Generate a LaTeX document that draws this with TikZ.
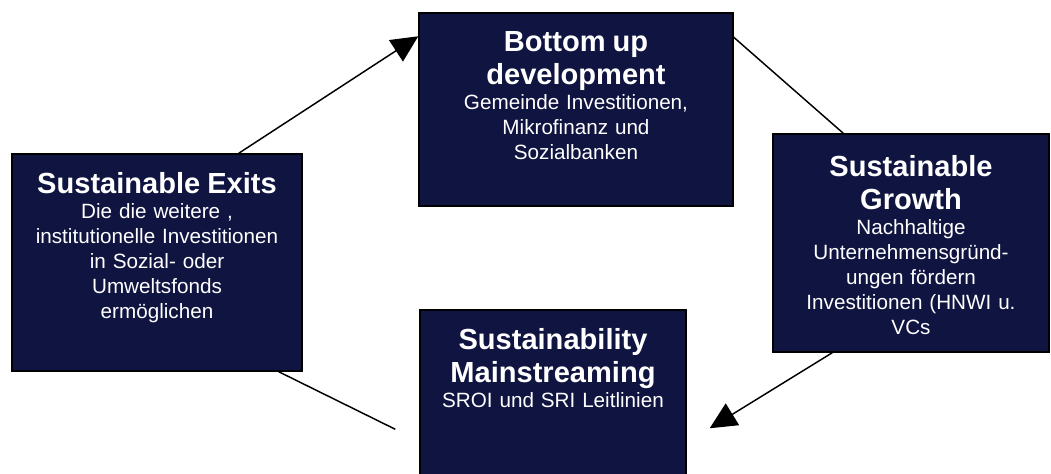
\documentclass[tikz,border=0pt]{standalone}
\usepackage{fontspec}
\setmainfont{Liberation Sans}
\usetikzlibrary{arrows.meta}
\usetikzlibrary{calc}
\usetikzlibrary{fit}
\usetikzlibrary{shadows}
\definecolor{mynavy}{RGB}{16,20,64}
\newcommand{\cardtitle}{\fontsize{21.8}{25}\selectfont\bfseries}
\tikzset{
card/.style={draw=black, line width=1.1pt, fill=mynavy, inner sep=0pt,
  drop shadow={shadow xshift=0.6pt, shadow yshift=-0.6pt, fill=black, opacity=1}},
cardtext/.style={anchor=north, yshift=-14pt, inner sep=0pt, text=white,
  align=center, text width=200pt, font=\fontsize{15.5}{18.75}\selectfont},
link/.style={line width=1.1pt},
bigtip/.style={-{Triangle[length=20pt,width=19pt]}}
}

\begin{document}
\begin{tikzpicture}[x=0.75pt, y=-0.75pt]
\clip (0,0) rectangle (1051,474);

% the four stages of the cycle
\node[card, fit={(12,154) (302,371)}] (exits) {};
\node[card, fit={(419,13) (733,206)}] (bottomup) {};
\node[card, fit={(773,134) (1049,352)}] (growth) {};
\node[card, fit={(420,310) (686,530)}] (mainstream) {};

\node[cardtext] (exits-text) at (exits.north)
  {{\cardtitle Sustainable Exits\par}Die die weitere ,\\institutionelle Investitionen\\in Sozial- oder\\Umweltsfonds\\ermöglichen};
\node[cardtext] (bottomup-text) at (bottomup.north)
  {{\cardtitle Bottom up\\development\par}Gemeinde Investitionen,\\Mikrofinanz und\\Sozialbanken};
\node[cardtext, yshift=-2.5pt] (growth-text) at (growth.north)
  {{\cardtitle Sustainable\\Growth\par}Nachhaltige\\Unternehmensgründ-\\ungen fördern\\Investitionen (HNWI u.\\VCs};
\node[cardtext] (mainstream-text) at (mainstream.north)
  {{\cardtitle Sustainability\\Mainstreaming\par}SROI und SRI Leitlinien};

% connectors
\coordinate (mainstream-in) at ($(mainstream.north east)+(23,119)$);
\coordinate (exits-out) at ($(mainstream.north west)+(-24,120)$);
\draw[link, bigtip] ($(exits.north east)+(-64,0)$) -- ($(bottomup.north west)+(0,24)$);
\draw[link] ($(bottomup.north east)+(0,25)$) -- ($(growth.north west)+(71,0)$);
\draw[link, bigtip] ($(growth.south west)+(60,0)$) -- (mainstream-in);
\draw[link] ($(exits.south east)+(-24,0)$) -- (exits-out);
\end{tikzpicture}
\end{document}
